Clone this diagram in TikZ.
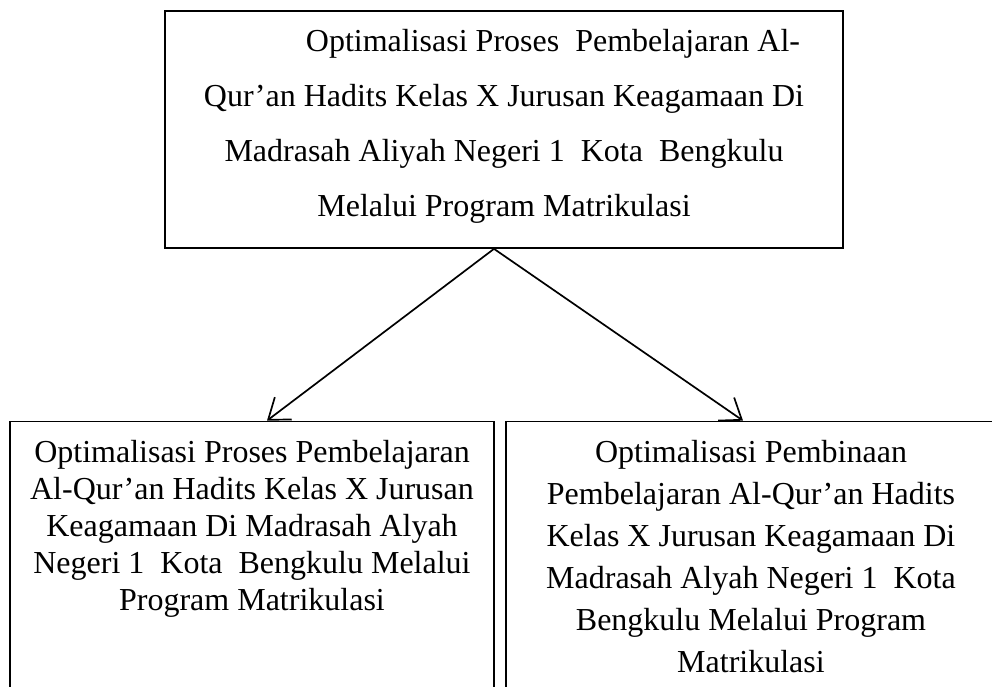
\documentclass[tikz,border=0pt]{standalone}
\usepackage{fontspec}
\setmainfont{Liberation Serif}
\usetikzlibrary{arrows.meta}

\tikzset{
  box/.style = {draw, line width = 1.7pt, inner sep = 0pt},
  txt/.style = {align = center, inner sep = 0pt, anchor = north},
  link/.style = {line width = 1.7pt, -{Straight Barb[length = 19pt, width = 28pt]}}
}

\begin{document}
\begin{tikzpicture}[x = 1pt, y = -1pt]
\clip (0, 0) rectangle (992, 687);
\node[box, minimum width = 678pt, minimum height = 237pt] (atas) at (504, 129.5) {};
\node[box, minimum width = 484pt, minimum height = 300pt] (kiri) at (252, 571.5) {};
\node[box, minimum width = 490pt, minimum height = 300pt] (kanan) at (751, 571.5) {};
\node[txt, font = \fontsize{32}{55}\selectfont] (teksatas) at (504, 29) {\hspace*{98pt}Optimalisasi Proses\ \ Pembelajaran Al-\\ Qur’an Hadits Kelas X Jurusan Keagamaan Di\\ Madrasah Aliyah Negeri 1\ \ Kota\ \ Bengkulu\\ Melalui Program Matrikulasi};
\node[txt, font = \fontsize{32}{37}\selectfont] (tekskiri) at (252, 440) {Optimalisasi Proses Pembelajaran\\ Al-Qur’an Hadits Kelas X Jurusan\\ Keagamaan Di Madrasah Alyah\\ Negeri 1\ \ Kota\ \ Bengkulu Melalui\\ Program Matrikulasi};
\node[txt, font = \fontsize{32}{42}\selectfont] (tekskanan) at (751, 440) {Optimalisasi Pembinaan\\ Pembelajaran Al-Qur’an Hadits\\ Kelas X Jurusan Keagamaan Di\\ Madrasah Alyah Negeri 1\ \ Kota\\ Bengkulu Melalui Program\\ Matrikulasi};
\draw[link] ([xshift = -10pt]atas.south) -- ([xshift = 15pt]kiri.north);
\draw[link] ([xshift = -10pt]atas.south) -- ([xshift = -8pt]kanan.north);
\end{tikzpicture}
\end{document}
